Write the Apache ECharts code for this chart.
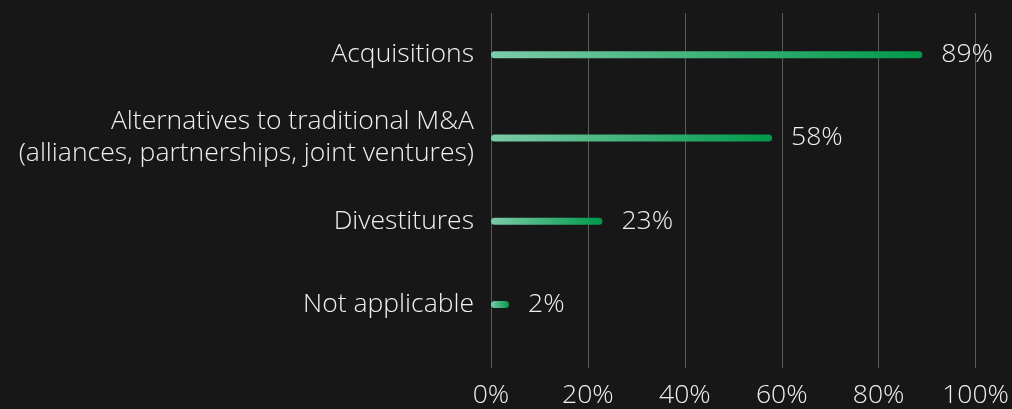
<!DOCTYPE html>
<html>
<head>
<meta charset="utf-8">
<script src="https://cdn.jsdelivr.net/npm/echarts@6/dist/echarts.min.js"></script>
<style>
  html, body { margin: 0; padding: 0; background: #171717; }
  #chart { width: 1012px; height: 409px; }
</style>
</head>
<body>
<div id="chart"></div>
<script>
// 数据
var categories = [
  'Acquisitions',
  'Alternatives to traditional M&A\n(alliances, partnerships, joint ventures)',
  'Divestitures',
  'Not applicable'
];
var values = [89, 58, 23, 2];
var ticks = [0, 20, 40, 60, 80, 100];

var textColor = '#f0f0f0';
var lineColor = '#5a5a5a';
var fontSize = 26.5;

var chart = echarts.init(document.getElementById('chart'));

var barGradient = new echarts.graphic.LinearGradient(0, 0, 1, 0, [
  { offset: 0, color: '#7dcba9' },
  { offset: 1, color: '#00994a' }
]);

var option = {
  backgroundColor: '#171717',
  animation: false,
  grid: { left: 491, right: 34, top: 13, bottom: 62 },
  xAxis: {
    type: 'value',
    min: ticks[0],
    max: ticks[ticks.length - 1],
    interval: 20,
    axisLine: { show: false },
    axisTick: { show: true, length: 22, lineStyle: { color: lineColor, width: 1 } },
    splitLine: { show: true, lineStyle: { color: lineColor, width: 1 } },
    axisLabel: {
      color: textColor,
      fontFamily: 'Open Sans',
      fontWeight: 300,
      fontSize: fontSize,
      margin: 36,
      formatter: '{value}%'
    }
  },
  yAxis: {
    type: 'category',
    inverse: true,
    data: categories,
    axisLine: { show: false },
    axisTick: { show: false },
    axisLabel: {
      color: textColor,
      fontFamily: 'Open Sans',
      fontWeight: 300,
      fontSize: fontSize,
      lineHeight: 32,
      margin: 17,
      align: 'right'
    }
  },
  series: [{
    type: 'bar',
    data: values,
    barWidth: 7,
    barMinHeight: 18,
    itemStyle: { color: barGradient, borderRadius: 3.5 },
    label: {
      show: true,
      position: 'right',
      distance: 19,
      formatter: '{c}%',
      color: textColor,
      fontFamily: 'Open Sans',
      fontWeight: 300,
      fontSize: fontSize
    }
  }]
};

chart.setOption(option);
</script>
</body>
</html>
